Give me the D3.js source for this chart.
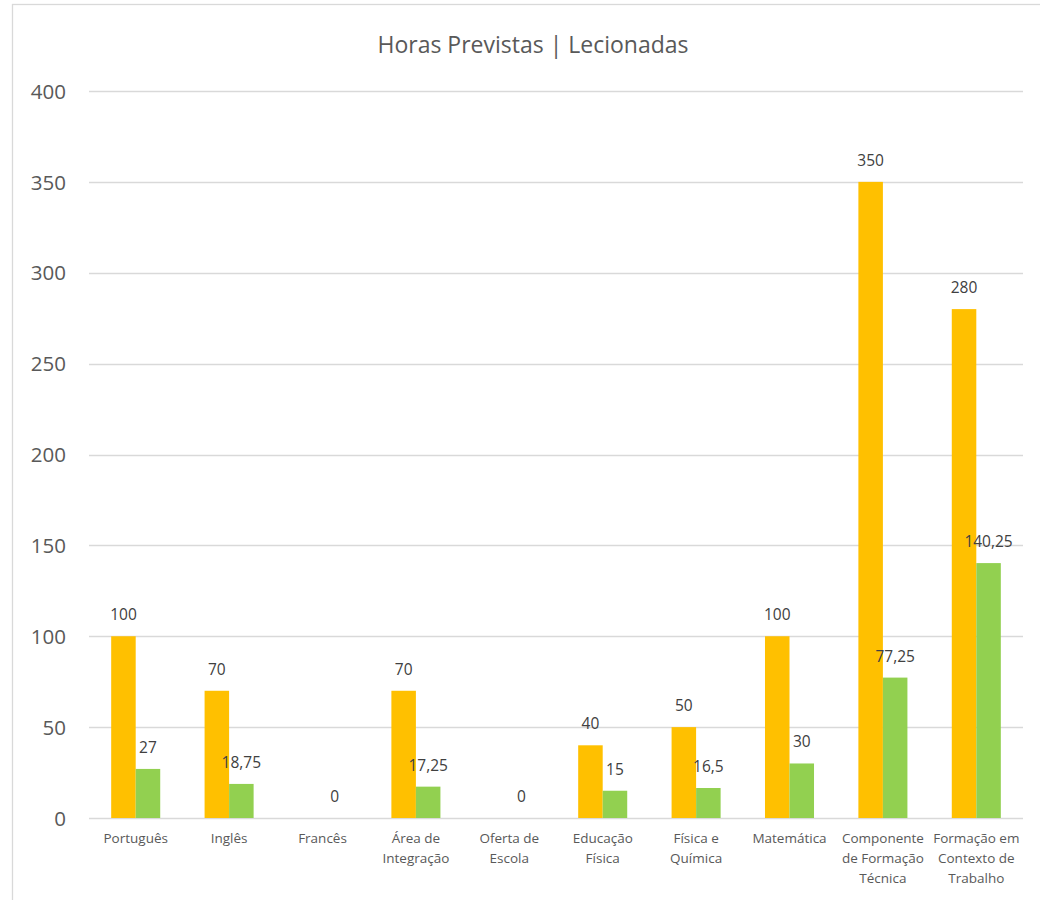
<!DOCTYPE html>
<html>
<head>
<meta charset="utf-8">
<script src="https://cdn.jsdelivr.net/npm/d3@7"></script>
<style>
  html, body { margin: 0; padding: 0; background: #fff; }
  svg { display: block; font-family: "Open Sans", "Noto Sans", sans-serif; }
</style>
</head>
<body>
<svg id="chart" width="1040" height="900"></svg>
<script>
const title = "Horas Previstas | Lecionadas";
const categories = ["Português", "Inglês", "Francês", "Área de Integração", "Oferta de Escola",
  "Educação Física", "Física e Química", "Matemática", "Componente de Formação Técnica",
  "Formação em Contexto de Trabalho"];
const seriesNames = ["Previstas", "Lecionadas"];
const previstas = [100, 70, null, 70, null, 40, 50, 100, 350, 280];
const lecionadas = [27, 18.75, 0, 17.25, 0, 15, 16.5, 30, 77.25, 140.25];
const yTicks = [0, 50, 100, 150, 200, 250, 300, 350, 400];
const colors = ["#FFC000", "#92D050"];

const svg = d3.select("#chart");
const margin = { left: 89, right: 1023, top: 91, bottom: 818 };

// chart area border
svg.append("rect")
  .attr("x", 12.5).attr("y", 4.5)
  .attr("width", 1100).attr("height", 1000)
  .attr("fill", "none").attr("stroke", "#D9D9D9").attr("stroke-width", 1.3);

const x0 = d3.scaleBand().domain(categories).range([margin.left, margin.right])
  .paddingInner(0.475).paddingOuter(0.2375);
const x1 = d3.scaleBand().domain(seriesNames).range([0, x0.bandwidth()]).padding(0);
const y = d3.scaleLinear().domain([0, 400]).range([margin.bottom, margin.top]);

// gridlines
svg.append("g").selectAll("line").data(yTicks).join("line")
  .attr("x1", margin.left).attr("x2", margin.right)
  .attr("y1", d => Math.round(y(d)) + 0.5).attr("y2", d => Math.round(y(d)) + 0.5)
  .attr("stroke", "#D9D9D9").attr("stroke-width", 1.3);

// y axis labels
const yAxis = d3.axisLeft(y).tickValues(yTicks).tickSize(0).tickPadding(0);
const gy = svg.append("g").attr("transform", `translate(66,0)`).call(yAxis);
gy.select(".domain").remove();
gy.selectAll("text").attr("fill", "#595959").attr("font-size", "20.5px")
  .attr("font-family", '"Open Sans", sans-serif').attr("dy", "0.35em");

// title
svg.append("text").attr("x", 533).attr("y", 53).attr("text-anchor", "middle")
  .attr("font-size", "23px").attr("fill", "#595959").text(title);

// bars
const rows = categories.map((c, i) => ({ cat: c, vals: [previstas[i], lecionadas[i]] }));
const groups = svg.append("g").selectAll("g").data(rows).join("g")
  .attr("transform", d => `translate(${x0(d.cat)},0)`);

groups.selectAll("rect").data(d => d.vals.map((v, k) => ({ v, k })).filter(e => e.v !== null))
  .join("rect")
  .attr("x", e => x1(seriesNames[e.k]))
  .attr("width", x1.bandwidth())
  .attr("y", e => y(e.v))
  .attr("height", e => y(0) - y(e.v))
  .attr("fill", e => colors[e.k]);

groups.selectAll("text.lbl").data(d => d.vals.map((v, k) => ({ v, k })).filter(e => e.v !== null))
  .join("text").attr("class", "lbl")
  .attr("x", e => x1(seriesNames[e.k]) + x1.bandwidth() / 2)
  .attr("y", e => y(e.v) - 16)
  .attr("text-anchor", "middle")
  .attr("font-size", "15.5px").attr("fill", "#404040")
  .text(e => String(e.v).replace(".", ","));

// x axis category labels (wrapped)
const xAxis = d3.axisBottom(x0).tickSize(0).tickPadding(0);
const gx = svg.append("g").attr("transform", `translate(0,${margin.bottom})`).call(xAxis);
gx.select(".domain").remove();
gx.selectAll("text").each(function (d) {
  const t = d3.select(this);
  t.text(null).attr("y", 0).attr("dy", null)
    .attr("fill", "#595959").attr("font-size", "13.5px")
    .attr("font-family", '"Open Sans", sans-serif');
  const words = d.split(" ");
  const maxW = 92;
  let lines = [], cur = [];
  const probe = t.append("tspan");
  words.forEach(w => {
    const test = cur.concat([w]).join(" ");
    probe.text(test);
    if (cur.length && probe.node().getComputedTextLength() > maxW) {
      lines.push(cur.join(" "));
      cur = [w];
    } else cur.push(w);
  });
  lines.push(cur.join(" "));
  probe.remove();
  lines.forEach((ln, i) => {
    t.append("tspan").attr("x", 0).attr("y", 25 + i * 20).text(ln);
  });
});
</script>
</body>
</html>
